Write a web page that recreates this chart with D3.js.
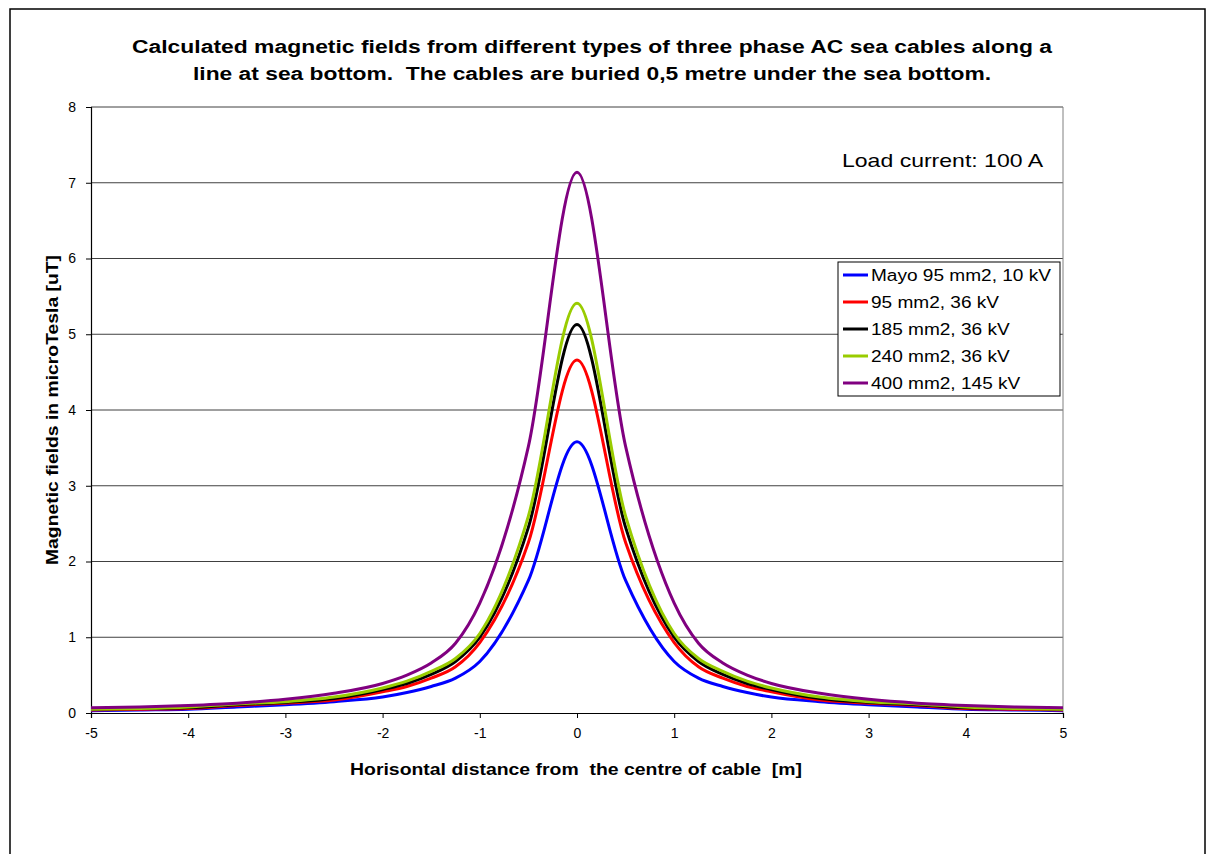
<!DOCTYPE html>
<html>
<head>
<meta charset="utf-8">
<script src="https://cdn.jsdelivr.net/npm/d3@7"></script>
<style>
  body { margin: 0; background: #fff; }
  text { font-family: Arial, "Liberation Sans", sans-serif; }
</style>
</head>
<body>
<svg id="chart" width="1213" height="854"></svg>
<script>
// distance from the cable centre [m]
const xValues = [-5, -4.5, -4, -3.5, -3, -2.5, -2, -1.75, -1.5, -1.25, -1, -0.5, 0,
                 0.5, 1, 1.25, 1.5, 1.75, 2, 2.5, 3, 3.5, 4, 4.5, 5];

// field values [uT]
const mayo95 = [0.03, 0.04, 0.05, 0.08, 0.11, 0.15, 0.21, 0.27, 0.35, 0.46, 0.68, 1.75, 3.58,
                1.75, 0.68, 0.46, 0.35, 0.27, 0.21, 0.15, 0.11, 0.08, 0.05, 0.04, 0.03];
const c95 = [0.04, 0.05, 0.06, 0.10, 0.13, 0.17, 0.28, 0.35, 0.46, 0.61, 0.93, 2.25, 4.66,
             2.25, 0.93, 0.61, 0.46, 0.35, 0.28, 0.17, 0.13, 0.10, 0.06, 0.05, 0.04];
const c185 = [0.05, 0.06, 0.07, 0.11, 0.14, 0.19, 0.31, 0.39, 0.51, 0.68, 1.0, 2.45, 5.13,
              2.45, 1.0, 0.68, 0.51, 0.39, 0.31, 0.19, 0.14, 0.11, 0.07, 0.06, 0.05];
const c240 = [0.05, 0.06, 0.08, 0.12, 0.15, 0.21, 0.33, 0.42, 0.55, 0.72, 1.05, 2.6, 5.41,
              2.6, 1.05, 0.72, 0.55, 0.42, 0.33, 0.21, 0.15, 0.12, 0.08, 0.06, 0.05];
const c400 = [0.07, 0.08, 0.10, 0.13, 0.18, 0.26, 0.39, 0.5, 0.66, 0.92, 1.45, 3.52, 7.14,
              3.52, 1.45, 0.92, 0.66, 0.5, 0.39, 0.26, 0.18, 0.13, 0.10, 0.08, 0.07];

const seriesNames = ["Mayo 95 mm2, 10 kV", "95 mm2, 36 kV", "185 mm2, 36 kV", "240 mm2, 36 kV", "400 mm2, 145 kV"];
const seriesColors = ["#0000ff", "#ff0000", "#000000", "#99cc00", "#800080"];
const seriesValues = [mayo95, c95, c185, c240, c400];

const xTicks = [-5, -4, -3, -2, -1, 0, 1, 2, 3, 4, 5];
const yTicks = [0, 1, 2, 3, 4, 5, 6, 7, 8];

const titleLines = [
    "Calculated magnetic fields from different types of three phase AC sea cables along a",
    "line at sea bottom.  The cables are buried 0,5 metre under the sea bottom."
];

// the original text is drawn a bit wider than the font: stretch to match
function stretch(sel, factor) {
    sel.each(function () {
        let w = this.getComputedTextLength();
        d3.select(this)
            .attr("textLength", w * factor)
            .attr("lengthAdjust", "spacingAndGlyphs");
    });
}

let svg = d3.select("#chart");

// outer frame
svg.append("rect")
    .attr("x", 10).attr("y", 9)
    .attr("width", 1195).attr("height", 900)
    .attr("fill", "none")
    .attr("stroke", "#000")
    .attr("stroke-width", 1.5);

let margin = {left: 91, top: 107, right: 1063, bottom: 713};

let x = d3.scaleLinear().domain([-5, 5]).range([margin.left, margin.right]);
let y = d3.scaleLinear().domain([0, 8]).range([margin.bottom, margin.top]);

// gridlines
svg.append("g")
    .selectAll("line")
    .data(yTicks.slice(1))
    .join("line")
    .attr("x1", margin.left).attr("x2", margin.right)
    .attr("y1", d => y(d)).attr("y2", d => y(d))
    .attr("stroke", "#404040")
    .attr("stroke-width", 1);

// right side of plot area
svg.append("line")
    .attr("x1", margin.right).attr("x2", margin.right)
    .attr("y1", margin.top).attr("y2", margin.bottom)
    .attr("stroke", "#808080");

// axes
let xAxis = svg.append("g")
    .attr("transform", `translate(0,${margin.bottom})`)
    .call(d3.axisBottom(x).tickValues(xTicks).tickSize(5).tickPadding(10).tickFormat(d => String(d)));
let yAxis = svg.append("g")
    .attr("transform", `translate(${margin.left},0)`)
    .call(d3.axisLeft(y).tickValues(yTicks).tickSize(5).tickPadding(10).tickFormat(d => String(d)));

[xAxis, yAxis].forEach(function (g) {
    g.attr("font-size", null).attr("font-family", null);
    g.selectAll("path, line").attr("stroke", "#000");
    g.select(".domain").attr("stroke-width", 1.2);
    g.selectAll("text")
        .style("font-family", "Arial, 'Liberation Sans', sans-serif")
        .style("font-size", "14px")
        .attr("fill", "#000");
});

// curves
let line = d3.line()
    .x((d, i) => x(xValues[i]))
    .y(d => y(d))
    .curve(d3.curveMonotoneX);

let plot = svg.append("g");
plot.selectAll("path")
    .data(seriesValues)
    .join("path")
    .attr("d", line)
    .attr("fill", "none")
    .attr("stroke", (d, i) => seriesColors[i])
    .attr("stroke-width", 3)
    .attr("stroke-linejoin", "round");

// title
svg.append("g")
    .selectAll("text")
    .data(titleLines)
    .join("text")
    .attr("x", 592)
    .attr("y", (d, i) => 53 + i * 27)
    .attr("text-anchor", "middle")
    .attr("font-size", 18)
    .attr("font-weight", "bold")
    .style("white-space", "pre")
    .text(d => d)
    .attr("textLength", (d, i) => i === 0 ? 920 : 798)
    .attr("lengthAdjust", "spacingAndGlyphs");

// axis titles
svg.append("text")
    .attr("x", 576).attr("y", 775)
    .attr("text-anchor", "middle")
    .attr("font-size", 16)
    .attr("font-weight", "bold")
    .style("white-space", "pre")
    .text("Horisontal distance from  the centre of cable  [m]")
    .attr("textLength", 452)
    .attr("lengthAdjust", "spacingAndGlyphs");

svg.append("text")
    .attr("transform", "translate(58,410) rotate(-90)")
    .attr("text-anchor", "middle")
    .attr("font-size", 16)
    .attr("font-weight", "bold")
    .text("Magnetic fields in microTesla [uT]")
    .attr("textLength", 310)
    .attr("lengthAdjust", "spacingAndGlyphs");

// annotation
svg.append("text")
    .attr("x", 1043).attr("y", 167)
    .attr("text-anchor", "end")
    .attr("font-size", 19)
    .text("Load current: 100 A")
    .attr("textLength", 201)
    .attr("lengthAdjust", "spacingAndGlyphs");

// legend
let legend = svg.append("g").attr("transform", "translate(838,262)");
legend.append("rect")
    .attr("width", 222).attr("height", 134)
    .attr("fill", "#fff")
    .attr("stroke", "#000")
    .attr("stroke-width", 1);
let rows = legend.selectAll("g")
    .data(seriesNames)
    .join("g")
    .attr("transform", (d, i) => `translate(0,${13 + i * 27})`);
rows.append("line")
    .attr("x1", 5).attr("x2", 30)
    .attr("stroke", (d, i) => seriesColors[i])
    .attr("stroke-width", 3);
rows.append("text")
    .attr("x", 33).attr("y", 6)
    .attr("font-size", 16)
    .text(d => d)
    .call(stretch, 1.19);
</script>
</body>
</html>
